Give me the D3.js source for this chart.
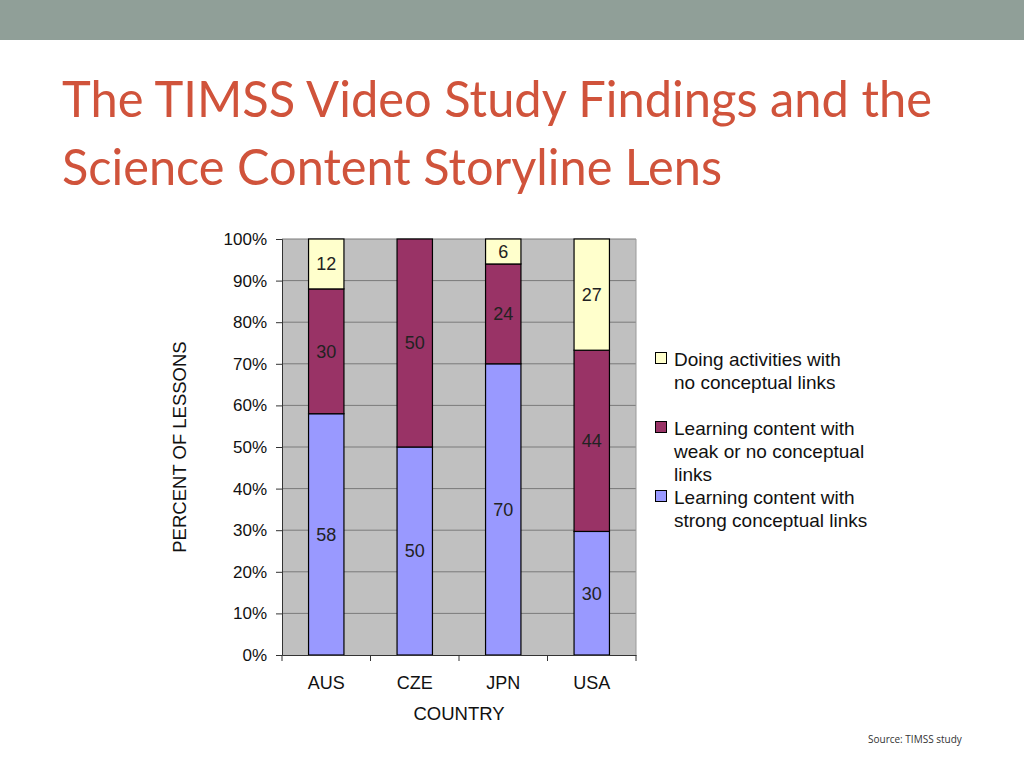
<!DOCTYPE html>
<html><head><meta charset="utf-8">
<script src="https://cdn.jsdelivr.net/npm/d3@7"></script>
<style>body{margin:0;background:#fff;}svg{display:block;}</style>
</head><body>
<svg id="c" width="1024" height="768"></svg>
<script>
const countries = ["AUS","CZE","JPN","USA"];
const strong = [58,50,70,30];
const weak = [30,50,24,44];
const activities = [12,0,6,27];
const seriesNames = ["Learning content with strong conceptual links","Learning content with weak or no conceptual links","Doing activities with no conceptual links"];
const seriesColors = ["#9999ff","#993366","#ffffcc"];
const yTicks = [0,0.1,0.2,0.3,0.4,0.5,0.6,0.7,0.8,0.9,1.0];

const svg = d3.select("#c");
svg.append("rect").attr("x",0).attr("y",0).attr("width",1024).attr("height",40).attr("fill","#909f98");
const titleFont = "Lato, 'Open Sans', sans-serif";
svg.append("text").attr("x",62).attr("y",117).attr("fill","#d0533b").attr("font-family",titleFont).attr("font-size",50)
  .attr("textLength",870).attr("lengthAdjust","spacingAndGlyphs").text("The TIMSS Video Study Findings and the");
svg.append("text").attr("x",62).attr("y",185).attr("fill","#d0533b").attr("font-family",titleFont).attr("font-size",50)
  .attr("textLength",660).attr("lengthAdjust","spacingAndGlyphs").text("Science Content Storyline Lens");

const L = 282, R = 636, T = 239, B = 655;
const x = d3.scaleBand().domain(countries).range([L,R]).paddingInner(0.6).paddingOuter(0.3);
const y = d3.scaleLinear().domain([0,1]).range([B,T]);
const af = "'Liberation Sans', Arial, sans-serif";

svg.append("rect").attr("x",L).attr("y",T).attr("width",R-L).attr("height",B-T).attr("fill","#c0c0c0");
svg.append("g").selectAll("line").data(yTicks.slice(1)).join("line")
  .attr("x1",L).attr("x2",R).attr("y1",d=>y(d)).attr("y2",d=>y(d)).attr("stroke","#7a7a7a").attr("stroke-width",1);
svg.append("line").attr("x1",R).attr("x2",R).attr("y1",T).attr("y2",B).attr("stroke","#9a9a9a");

const rows = countries.map((c,i)=>({country:c, s0:strong[i], s1:weak[i], s2:activities[i]}));
const stack = d3.stack().keys(["s0","s1","s2"]).offset(d3.stackOffsetExpand);
const stacked = stack(rows);
stacked.forEach((layer,k)=>{
  const g = svg.append("g");
  g.selectAll("rect").data(layer.filter(d=>d[1]-d[0]>0)).join("rect")
    .attr("x",d=>x(d.data.country)).attr("width",x.bandwidth())
    .attr("y",d=>y(d[1])).attr("height",d=>y(d[0])-y(d[1]))
    .attr("fill",seriesColors[k]).attr("stroke","#000").attr("stroke-width",1.2);
  g.selectAll("text").data(layer.filter(d=>d[1]-d[0]>0)).join("text")
    .attr("x",d=>x(d.data.country)+x.bandwidth()/2).attr("y",d=>(y(d[0])+y(d[1]))/2)
    .attr("dy","0.35em").attr("text-anchor","middle").attr("font-family",af).attr("font-size",18).attr("fill","#222")
    .text(d=>d.data["s"+k]);
});

const yAxis = svg.append("g").attr("transform",`translate(${L},0)`)
  .call(d3.axisLeft(y).tickValues(yTicks).tickFormat(d3.format(".0%")).tickSize(6).tickPadding(9));
yAxis.select(".domain").attr("stroke","#333");
yAxis.selectAll(".tick line").attr("stroke","#333");
yAxis.selectAll("text").attr("font-family",af).attr("font-size",17).attr("fill","#111");

const xAxis = svg.append("g").attr("transform",`translate(0,${B})`)
  .call(d3.axisBottom(x).tickSize(0).tickPadding(21));
xAxis.select(".domain").attr("stroke","#333");
xAxis.selectAll("text").attr("font-family",af).attr("font-size",18).attr("fill","#111");
const bounds = d3.range(countries.length+1).map(i=>L + i*(R-L)/countries.length);
svg.append("g").selectAll("line").data(bounds).join("line")
  .attr("x1",d=>d).attr("x2",d=>d).attr("y1",B).attr("y2",B+6).attr("stroke","#333");

svg.append("text").attr("x",459).attr("y",720).attr("text-anchor","middle").attr("font-family",af).attr("font-size",18.5).attr("fill","#111").text("COUNTRY");
svg.append("text").attr("transform","translate(186,447) rotate(-90)").attr("text-anchor","middle").attr("font-family",af).attr("font-size",18.5).attr("fill","#111").text("PERCENT OF LESSONS");

const legendLines = [
  {k:2, y:352, lines:["Doing activities with","no conceptual links"]},
  {k:1, y:421, lines:["Learning content with","weak or no conceptual","links"]},
  {k:0, y:490, lines:["Learning content with","strong conceptual links"]}
];
const lg = svg.append("g");
legendLines.forEach(it=>{
  lg.append("rect").attr("x",655.5).attr("y",it.y+0.5).attr("width",11).attr("height",11)
    .attr("fill",seriesColors[it.k]).attr("stroke","#000").attr("stroke-width",1);
  const t = lg.append("text").attr("font-family",af).attr("font-size",19).attr("fill","#111");
  it.lines.forEach((s,i)=>t.append("tspan").attr("x",674).attr("y",it.y+14+i*23).text(s));
});

svg.append("text").attr("x",868).attr("y",743).attr("font-family","'Open Sans', sans-serif").attr("font-size",10).attr("fill","#333").text("Source: TIMSS study");
</script>
</body></html>
